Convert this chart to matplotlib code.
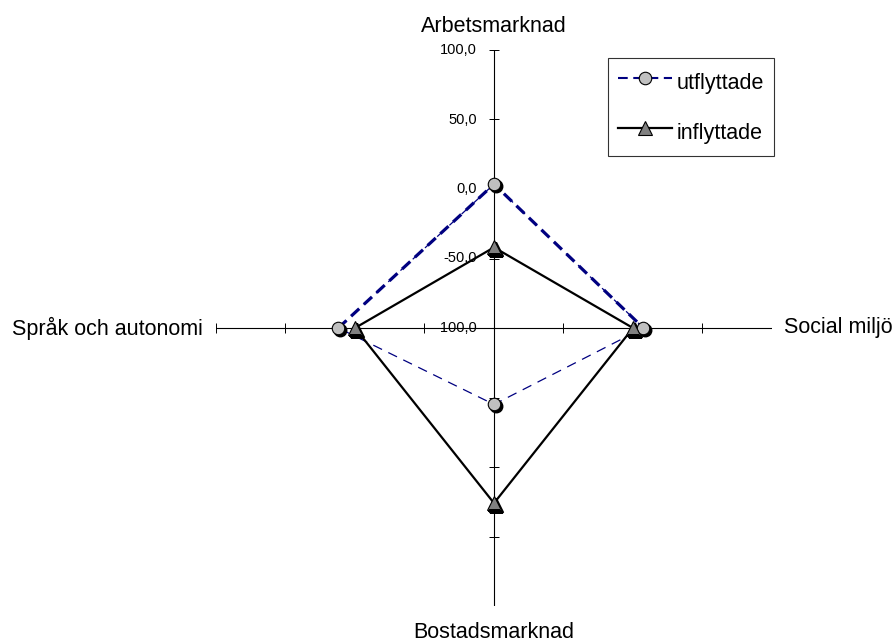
import numpy as np
import matplotlib
matplotlib.use("Agg")
import matplotlib.pyplot as plt
from matplotlib.transforms import offset_copy
from matplotlib.lines import Line2D

plt.rcParams['font.family'] = ['Liberation Sans', 'DejaVu Sans']
plt.rcParams['lines.scale_dashes'] = False

categories = ["Arbetsmarknad", "Social miljö", "Bostadsmarknad", "Språk och autonomi"]
utflyttade = [3.5, 7.5, -45.0, 12.0]
inflyttade = [-42.0, 0.0, 26.0, 0.0]
tick_values = [-100, -50, 0, 50, 100]
tick_labels = ["-100,0", "-50,0", "0,0", "50,0", "100,0"]
series_names = ["utflyttade", "inflyttade"]

W, H = 895, 641
fig = plt.figure(figsize=(W / 100, H / 100), dpi=100)
cx, cy, R = 494, 328, 278
ax = fig.add_axes([(cx - R) / W, (H - cy - R) / H, 2 * R / W, 2 * R / H], projection='polar')
ax.set_theta_offset(np.pi / 2)
ax.set_theta_direction(-1)
ax.set_ylim(-100, 100)
ax.grid(False)
ax.set_xticks([])
ax.set_yticks([])
ax.spines['polar'].set_visible(False)
ax.patch.set_visible(False)

n = len(categories)
angles = [i * 2 * np.pi / n for i in range(n)]

# spokes with tick marks
for i, th in enumerate(angles):
    ax.plot([th, th], [tick_values[0], tick_values[-1]], color='black', lw=0.8, zorder=1)
    mk = '_' if i % 2 == 0 else '|'
    ax.plot([th] * (len(tick_values) - 1), tick_values[1:], linestyle='none',
            marker=mk, color='black', markersize=6.5, markeredgewidth=0.7,
            snap=True, zorder=1)

# tick labels on the top spoke
for v, lab in zip(tick_values, tick_labels):
    ax.annotate(lab, xy=(angles[0], v), xytext=(-17, 0), textcoords='offset pixels',
                ha='right', va='center', fontsize=10.5, annotation_clip=False)

# category labels
offs = [((0, 23), 'center', 'center'), ((12, 0), 'left', 'center'),
        ((0, -26), 'center', 'center'), ((-13, 0), 'right', 'center')]
for th, lab, (xy, ha, va) in zip(angles, categories, offs):
    ax.annotate(lab, xy=(th, 100), xytext=xy, textcoords='offset pixels',
                ha=ha, va=va, fontsize=15.5, annotation_clip=False)

th_closed = angles + [angles[0]]
u_closed = utflyttade + [utflyttade[0]]
i_closed = inflyttade + [inflyttade[0]]

navy = '#000080'
# utflyttade: thin dashed polygon + thick dashed upper segments
ax.plot(th_closed, u_closed, color=navy, lw=0.9, dashes=(7, 5), zorder=2)
idx = [3, 0, 1]
ax.plot([angles[k] for k in idx], [utflyttade[k] for k in idx], color=navy, lw=2.3,
        dashes=(8, 4.5), zorder=2)
# inflyttade solid
ax.plot(th_closed, i_closed, color='black', lw=1.6, zorder=3)

shadow = offset_copy(ax.transData, fig=fig, x=2, y=-2, units='dots')
ax.plot(angles, utflyttade, linestyle='none', marker='o', markersize=9,
        color='black', transform=shadow, zorder=4)
ax.plot(angles, utflyttade, linestyle='none', marker='o', markersize=9,
        markerfacecolor='#C0C0C0', markeredgecolor='black', markeredgewidth=0.8, zorder=5)
ax.plot(angles, inflyttade, linestyle='none', marker='^', markersize=9.5,
        color='black', transform=shadow, zorder=4)
ax.plot(angles, inflyttade, linestyle='none', marker='^', markersize=9.5,
        markerfacecolor='#808080', markeredgecolor='black', markeredgewidth=0.8, zorder=5)

handles = [
    Line2D([], [], color=navy, lw=1.5, dashes=(7, 4), marker='o', markersize=9,
           markerfacecolor='#C0C0C0', markeredgecolor='black', markeredgewidth=0.8),
    Line2D([], [], color='black', lw=1.6, marker='^', markersize=9.5,
           markerfacecolor='#808080', markeredgecolor='black', markeredgewidth=0.8),
]
leg = fig.legend(handles, series_names, loc='upper right',
                 bbox_to_anchor=(774 / W, 1 - 58 / H), bbox_transform=fig.transFigure,
                 borderaxespad=0, frameon=True, fancybox=False, edgecolor='black',
                 fontsize=15.5, handlelength=2.5, handleheight=1.7, handletextpad=0.25,
                 labelspacing=0.95, borderpad=0.45)
leg.get_frame().set_linewidth(0.8)

fig.savefig("out.png", dpi=100)
